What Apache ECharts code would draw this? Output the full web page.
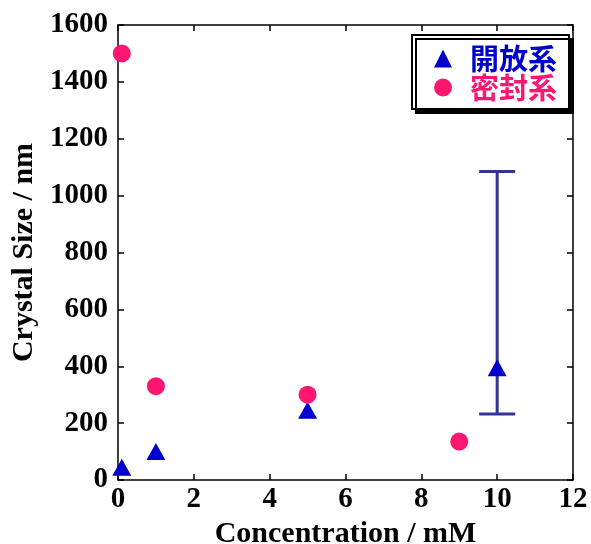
<!DOCTYPE html>
<html>
<head>
<meta charset="utf-8">
<script src="https://cdn.jsdelivr.net/npm/echarts@6/dist/echarts.min.js"></script>
<style>
  html, body { margin: 0; padding: 0; background: #fff; }
  #chart { width: 591px; height: 544px; }
</style>
</head>
<body>
<div id="chart"></div>
<script>
// Crystal size vs. concentration, open vs. sealed systems
const openX = [0.1, 1, 5, 10];
const openY = [45, 100, 245, 395];
const sealedX = [0.1, 1, 5, 9];
const sealedY = [1500, 330, 300, 135];
// error range for the open system at 10 mM
const errX = [10];
const errLow = [232];
const errHigh = [1085];

const serif = '"Liberation Serif", "Times New Roman", serif';
const cjk = '"Noto Sans CJK JP", sans-serif';
const blue = '#0000cc';
const pink = '#ff1670';

const chart = echarts.init(document.getElementById('chart'));

const axisCommon = {
  axisLine: { show: true, onZero: false, lineStyle: { color: '#000', width: 1.5 } },
  axisTick: { show: true, inside: true, length: 6, lineStyle: { color: '#000', width: 1.5 } },
  splitLine: { show: false }
};
const plain = v => String(v);

chart.setOption({
  animation: false,
  backgroundColor: '#fff',
  grid: { left: 118, right: 18, top: 25, bottom: 64, containLabel: false, outerBoundsMode: 'none' },
  xAxis: [
    Object.assign({
      type: 'value', min: 0, max: 12, interval: 2, position: 'bottom',
      name: 'Concentration / mM', nameLocation: 'middle', nameGap: 37,
      nameTextStyle: { fontFamily: serif, fontWeight: 'bold', fontSize: 30, color: '#000' },
      axisLabel: { fontFamily: serif, fontWeight: 'bold', fontSize: 29, color: '#000', margin: 5, formatter: plain }
    }, axisCommon),
    Object.assign({
      type: 'value', min: 0, max: 12, interval: 2, position: 'top',
      axisLabel: { show: false }
    }, axisCommon)
  ],
  yAxis: [
    Object.assign({
      type: 'value', min: 0, max: 1600, interval: 200, position: 'left',
      name: 'Crystal Size / nm', nameLocation: 'middle', nameGap: 78, nameRotate: 90,
      nameTextStyle: { fontFamily: serif, fontWeight: 'bold', fontSize: 30, color: '#000' },
      axisLabel: { fontFamily: serif, fontWeight: 'bold', fontSize: 29, color: '#000', margin: 10, formatter: plain }
    }, axisCommon),
    Object.assign({
      type: 'value', min: 0, max: 1600, interval: 200, position: 'right',
      axisLabel: { show: false }
    }, axisCommon)
  ],
  legend: {
    orient: 'vertical',
    left: 412, top: 35,
    padding: [9, 12, 7, 22],
    itemGap: 0,
    itemWidth: 18,
    itemHeight: 18,
    backgroundColor: '#fff',
    borderColor: '#000',
    borderWidth: 2,
    borderRadius: 0,
    shadowColor: '#000',
    shadowBlur: 0,
    shadowOffsetX: 4,
    shadowOffsetY: 4,
    textStyle: { fontFamily: cjk, fontWeight: 'bold', fontSize: 29, lineHeight: 27, padding: [0, 0, 0, 13] },
    data: [
      { name: '開放系', icon: 'triangle', textStyle: { color: blue } },
      { name: '密封系', icon: 'circle', textStyle: { color: pink } }
    ]
  },
  series: [
    {
      name: 'err',
      type: 'custom',
      data: errX.map((x, i) => [x, errLow[i], errHigh[i]]),
      renderItem: function (params, api) {
        const lo = api.coord([api.value(0), api.value(1)]);
        const hi = api.coord([api.value(0), api.value(2)]);
        const cap = 18;
        const style = { stroke: '#333399', lineWidth: 3, fill: null };
        return {
          type: 'group',
          children: [
            { type: 'line', shape: { x1: lo[0], y1: lo[1], x2: hi[0], y2: hi[1] }, style },
            { type: 'line', shape: { x1: lo[0] - cap, y1: lo[1], x2: lo[0] + cap, y2: lo[1] }, style },
            { type: 'line', shape: { x1: hi[0] - cap, y1: hi[1], x2: hi[0] + cap, y2: hi[1] }, style }
          ]
        };
      },
      z: 1
    },
    {
      name: '開放系',
      type: 'scatter',
      symbol: 'triangle',
      symbolSize: [19, 17],
      itemStyle: { color: blue, opacity: 1 },
      data: openX.map((x, i) => [x, openY[i]]),
      z: 3
    },
    {
      name: '密封系',
      type: 'scatter',
      symbol: 'circle',
      symbolSize: 18,
      itemStyle: { color: pink, opacity: 1 },
      data: sealedX.map((x, i) => [x, sealedY[i]]),
      z: 3
    }
  ]
});
</script>
</body>
</html>
